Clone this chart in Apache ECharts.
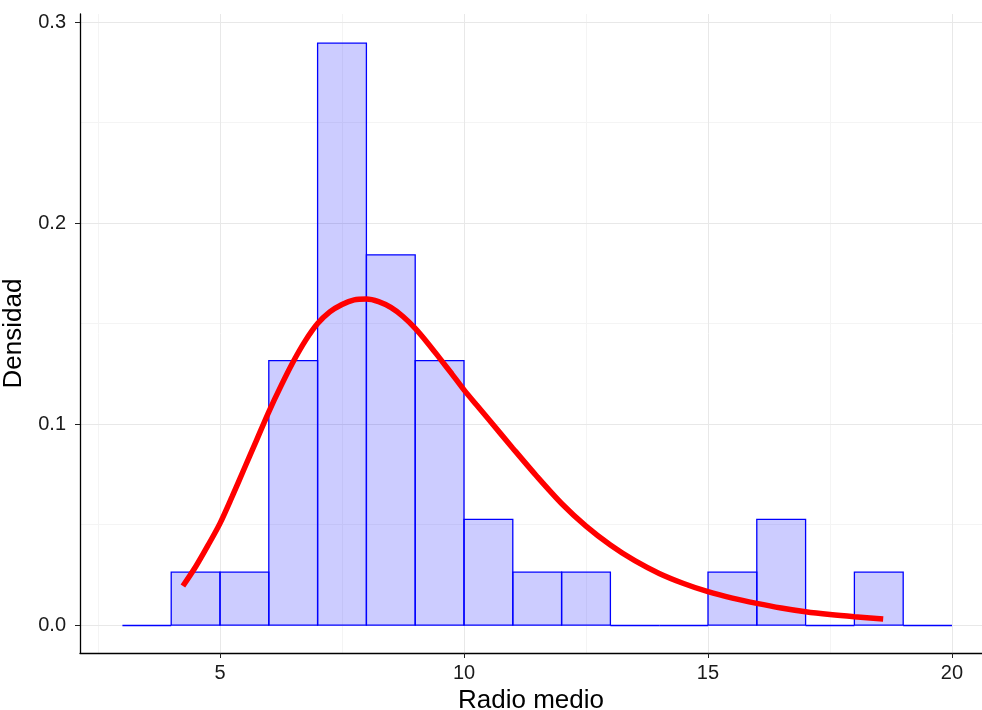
<!DOCTYPE html>
<html>
<head>
<meta charset="utf-8">
<script src="https://cdn.jsdelivr.net/npm/echarts@6/dist/echarts.min.js"></script>
<style>
html,body{margin:0;padding:0;background:#fff;overflow:hidden;}
#chart{width:982px;height:710px;}
</style>
</head>
<body>
<div id="chart"></div>
<script>
// Histogram bins (left edges, width 1) and density values
const binStart = [3,4,5,6,7,8,9,10,11,12,13,14,15,16,17,18,19];
const binWidth = 1;
const density = [0, 0.0263, 0.0263, 0.1316, 0.2895, 0.1842, 0.1316, 0.0526, 0.0263, 0.0263, 0, 0, 0.0263, 0.0526, 0, 0.0263, 0];

// Fitted density curve
const curveX = [4.24, 4.5, 4.75, 5.0, 5.25, 5.5, 5.75, 6.0, 6.25, 6.5, 6.75, 7.0, 7.25, 7.5, 7.75, 8.0, 8.25, 8.5, 8.75, 9.0, 9.25, 9.5, 9.75, 10.0, 10.25, 10.5, 11.0, 11.5, 12.0, 12.5, 13.0, 13.5, 14.0, 14.5, 15.0, 15.5, 16.0, 16.5, 17.0, 17.5, 18.0, 18.59];
const curveY = [0.0194, 0.029, 0.0395, 0.0506, 0.064, 0.078, 0.092, 0.1061, 0.119, 0.131, 0.1415, 0.150, 0.1558, 0.1595, 0.1618, 0.1622, 0.1609, 0.158, 0.1535, 0.1476, 0.1405, 0.1328, 0.125, 0.117, 0.1097, 0.1025, 0.088, 0.0738, 0.0605, 0.0492, 0.0398, 0.032, 0.0257, 0.0207, 0.0166, 0.0134, 0.0108, 0.0085, 0.0066, 0.0052, 0.0041, 0.0030];

// Tick values
const xTicks = [5, 10, 15, 20];
const yTicks = [0, 0.1, 0.2, 0.3];
const xMinor = [2.5, 7.5, 12.5, 17.5];
const yMinor = [0.05, 0.15, 0.25];

const FONT = "'Liberation Sans', Arial, Helvetica, sans-serif";
const chart = echarts.init(document.getElementById('chart'), null, {renderer: 'canvas'});

const histData = binStart.map((s, i) => [s, s + binWidth, density[i]]);
const curveData = curveX.map((x, i) => [x, curveY[i]]);

const MINOR = '#f4f4f4', MAJOR = '#e8e8e8';
const gridLines = []
  .concat(xMinor.map(v => ({xAxis: v, lineStyle: {color: MINOR, width: 1, type: 'solid'}})))
  .concat(yMinor.map(v => ({yAxis: v, lineStyle: {color: MINOR, width: 1, type: 'solid'}})))
  .concat(xTicks.map(v => ({xAxis: v, lineStyle: {color: MAJOR, width: 1, type: 'solid'}})))
  .concat(yTicks.map(v => ({yAxis: v, lineStyle: {color: MAJOR, width: 1, type: 'solid'}})));

const option = {
  animation: false,
  backgroundColor: '#ffffff',
  grid: {left: 80, right: 0, top: 14, bottom: 57, containLabel: false, outerBoundsMode: 'none'},
  xAxis: {
    type: 'value',
    min: 2.131, max: 20.615,
    name: 'Radio medio',
    nameLocation: 'middle',
    nameGap: 32,
    nameTextStyle: {fontFamily: FONT, fontSize: 26, color: '#000'},
    axisLine: {show: true, onZero: false, lineStyle: {color: '#000', width: 1.3}},
    axisTick: {show: true, inside: false, length: 5, customValues: xTicks, lineStyle: {color: '#222'}},
    axisLabel: {show: true, customValues: xTicks, margin: 10, fontFamily: FONT, fontSize: 20, color: '#1a1a1a'},
    splitLine: {show: false},
    minorSplitLine: {show: false}
  },
  yAxis: {
    type: 'value',
    min: -0.0139, max: 0.3040,
    name: 'Densidad',
    nameLocation: 'middle',
    nameGap: 40,
    nameRotate: 90,
    nameTextStyle: {fontFamily: FONT, fontSize: 26, color: '#000'},
    axisLine: {show: true, onZero: false, lineStyle: {color: '#000', width: 1.3}},
    axisTick: {show: true, inside: false, length: 5, customValues: yTicks, lineStyle: {color: '#222'}},
    axisLabel: {show: true, customValues: yTicks, margin: 14, fontFamily: FONT, fontSize: 20, color: '#1a1a1a',
      formatter: v => v.toFixed(1)},
    splitLine: {show: false}
  },
  series: [
    {
      type: 'line',
      data: [],
      silent: true,
      z: 0,
      markLine: {
        z: 0,
        silent: true,
        symbol: ['none', 'none'],
        label: {show: false},
        animation: false,
        data: gridLines
      }
    },
    {
      type: 'custom',
      z: 2,
      data: histData,
      encode: {x: [0, 1], y: 2},
      renderItem: function (params, api) {
        const p0 = api.coord([api.value(0), 0]);
        const p1 = api.coord([api.value(1), api.value(2)]);
        const h = p0[1] - p1[1];
        if (h < 0.5) {
          return {
            type: 'line',
            shape: {x1: p0[0], y1: Math.round(p0[1]) + 0.5, x2: p1[0], y2: Math.round(p0[1]) + 0.5},
            style: {stroke: '#0000ff', lineWidth: 1.3}
          };
        }
        return {
          type: 'rect',
          shape: {x: p0[0], y: p1[1], width: p1[0] - p0[0], height: h},
          style: {fill: 'rgba(0,0,255,0.2)', stroke: '#0000ff', lineWidth: 1.3}
        };
      }
    },
    {
      type: 'line',
      z: 3,
      data: curveData,
      smooth: 0.3,
      showSymbol: false,
      symbol: 'none',
      lineStyle: {color: '#ff0000', width: 5.5, cap: 'butt'}
    }
  ]
};
chart.setOption(option);
</script>
</body>
</html>
